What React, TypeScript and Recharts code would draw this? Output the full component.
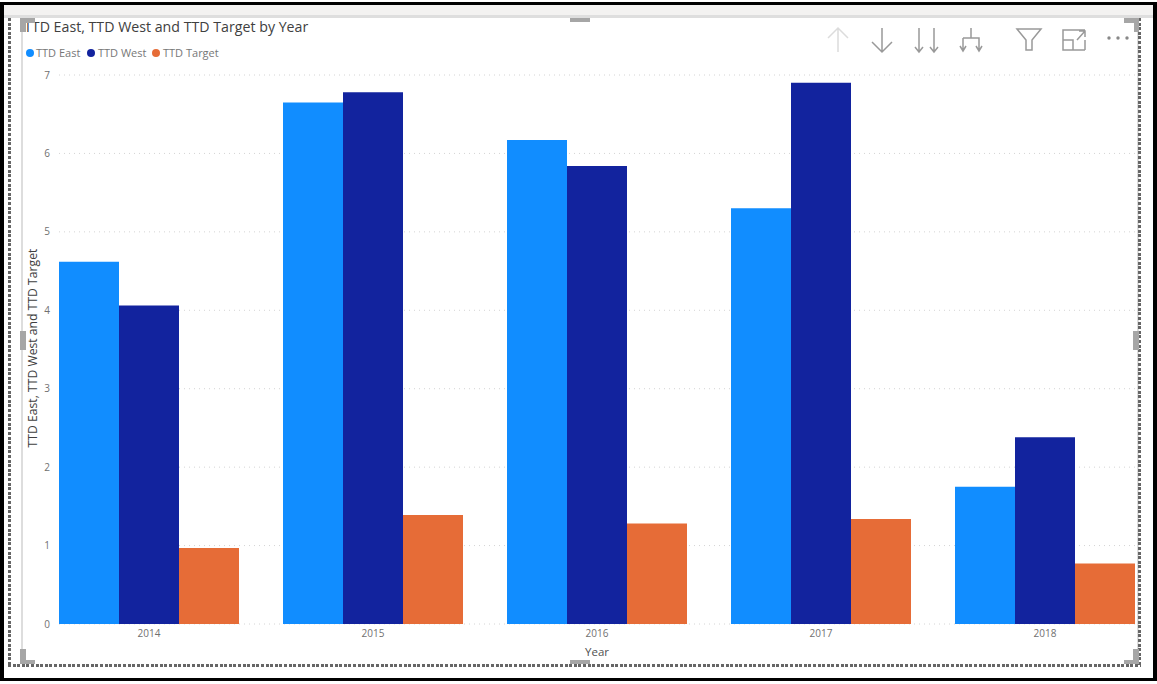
import { BarChart, Bar, XAxis, YAxis, CartesianGrid, Legend } from 'recharts'

const years = ['2014', '2015', '2016', '2017', '2018']
const ttdEast = [4.62, 6.65, 6.17, 5.3, 1.75]
const ttdWest = [4.06, 6.78, 5.84, 6.9, 2.38]
const ttdTarget = [0.97, 1.39, 1.28, 1.34, 0.77]
const yTicks = [0, 1, 2, 3, 4, 5, 6, 7]

const rows = years.map((year, i) => ({
  year,
  east: ttdEast[i],
  west: ttdWest[i],
  target: ttdTarget[i],
}))

const FONT = '"Open Sans", "Noto Sans", sans-serif'
const legendStops = [
  { left: 26, textLeft: 36 },
  { left: 87, textLeft: 98 },
  { left: 152, textLeft: 163 },
]

function box(left: number, top: number, width: number, height: number, background: string) {
  return <div style={{ position: 'absolute', left, top, width, height, background }} />
}

// Square dotted segment of the selection border
function dots(left: number, top: number, width: number, height: number) {
  const dir = width > height ? 'to right' : 'to bottom'
  return box(left, top, width, height, `repeating-linear-gradient(${dir}, #666 0 3px, transparent 3px 4.6px)`)
}

// Legend row under the visual title
function LegendRow({ payload }: any) {
  return (
    <div style={{ position: 'relative', height: 14 }}>
      {(payload ?? []).map((p: any, i: number) => (
        <span key={p.value}>
          <span style={{ position: 'absolute', left: legendStops[i].left, top: 3, width: 8, height: 8, borderRadius: 4, background: p.color }} />
          <span style={{ position: 'absolute', left: legendStops[i].textLeft, top: 0, fontSize: 11, lineHeight: '14px', color: '#777', whiteSpace: 'nowrap' }}>
            {p.value}
          </span>
        </span>
      ))}
    </div>
  )
}

// Hover toolbar of the visual
function Toolbar() {
  return (
    <svg width={1157} height={684} style={{ position: 'absolute', left: 0, top: 0, pointerEvents: 'none' }} fill="none" strokeWidth={1.5}>
      <g stroke="#dcdcdc">
        <path d="M838 28V52M828 38L838 28L848 38" />
      </g>
      <g stroke="#999">
        <path d="M882 28V52M872 42L882 52L892 42" />
        <path d="M919 28V52M915 47L919 52L923 47M934 28V52M930 47L934 52L938 47" />
        <path d="M971 28V38M963 38H979V50M963 38V50M960 46L963 51L966 46M976 46L979 51L982 46" />
        <path d="M1017 29H1041L1032 40V50H1026V40Z" />
        <path d="M1063 40V30H1085M1085 50H1063V40H1073V50M1085 50V40M1077 40L1085 31M1079 31H1085V37" />
      </g>
      <g fill="#888">
        <circle cx={1109} cy={38} r={1.7} />
        <circle cx={1118} cy={38} r={1.7} />
        <circle cx={1127} cy={38} r={1.7} />
      </g>
    </svg>
  )
}

// Selection frame: black outline, header strip, dotted border and resize handles
function Frame() {
  return (
    <>
      {box(0, 2, 1157, 3, '#000')}
      {box(0, 2, 4, 679, '#000')}
      {box(1153, 2, 4, 679, '#000')}
      {box(0, 678, 1157, 3, '#000')}
      {box(4, 5, 1149, 10, '#f3f2f1')}
      {box(4, 15, 1149, 3, '#dedede')}
      {box(21, 18, 2, 644, '#dddddd')}
      {box(1137, 18, 2, 644, '#dddddd')}
      {dots(8, 18, 3, 649)}
      {dots(1138, 18, 3, 649)}
      {dots(8, 664, 1133, 3)}
      {box(20, 18, 15, 5, '#a6a6a6')}
      {box(20, 18, 6, 14, '#a6a6a6')}
      {box(1124, 18, 15, 5, '#a6a6a6')}
      {box(1134, 18, 5, 14, '#a6a6a6')}
      {box(20, 649, 6, 15, '#a6a6a6')}
      {box(20, 660, 15, 4, '#a6a6a6')}
      {box(1133, 649, 6, 15, '#a6a6a6')}
      {box(1124, 660, 15, 4, '#a6a6a6')}
      {box(20, 331, 6, 19, '#a6a6a6')}
      {box(1133, 331, 6, 19, '#a6a6a6')}
      {box(570, 18, 20, 4, '#a6a6a6')}
      {box(570, 660, 20, 4, '#a6a6a6')}
    </>
  )
}

export default function App() {
  return (
    <div style={{ position: 'absolute', left: 0, top: 0, width: 1157, height: 684, background: '#fff', fontFamily: FONT, overflow: 'hidden' }}>
      <BarChart
        width={1157}
        height={684}
        data={rows}
        margin={{ top: 61, right: 22, bottom: 0, left: 29 }}
        barGap={0}
        barCategoryGap={22}
        style={{ position: 'absolute', left: 0, top: 0 }}
      >
        <text x={24} y={32} fontSize={14.2} fontFamily={FONT} fill="#404040">
          TTD East, TTD West and TTD Target by Year
        </text>
        <CartesianGrid vertical={false} stroke="#d4d4d4" strokeDasharray="1 4" />
        <XAxis
          dataKey="year"
          height={60}
          padding={{ left: -22, right: -22 }}
          axisLine={false}
          tickLine={false}
          tickSize={0}
          tickMargin={6}
          interval={0}
          tick={{ fontSize: 10, fill: '#707070', fontFamily: FONT }}
          label={{ value: 'Year', position: 'insideBottom', offset: 28, fontSize: 11.5, fill: '#505050', fontFamily: FONT }}
        />
        <YAxis
          width={30}
          domain={[0, 7]}
          ticks={yTicks}
          axisLine={false}
          tickLine={false}
          tickSize={0}
          tickMargin={9}
          tick={{ fontSize: 10, fill: '#707070', fontFamily: FONT }}
          label={{ value: 'TTD East, TTD West and TTD Target', angle: -90, position: 'insideLeft', offset: 4, dy: 98, fontSize: 12.2, fill: '#404040', fontFamily: FONT }}
        />
        <Legend
          verticalAlign="top"
          content={LegendRow}
          itemSorter={null}
          wrapperStyle={{ position: 'absolute', left: 0, top: 46, width: 400, height: 14 }}
        />
        <Bar dataKey="east" name="TTD East" fill="#118DFF" barSize={60} isAnimationActive={false} />
        <Bar dataKey="west" name="TTD West" fill="#12239E" barSize={60} isAnimationActive={false} />
        <Bar dataKey="target" name="TTD Target" fill="#E66C37" barSize={60} isAnimationActive={false} />
      </BarChart>
      <Toolbar />
      <Frame />
    </div>
  )
}
